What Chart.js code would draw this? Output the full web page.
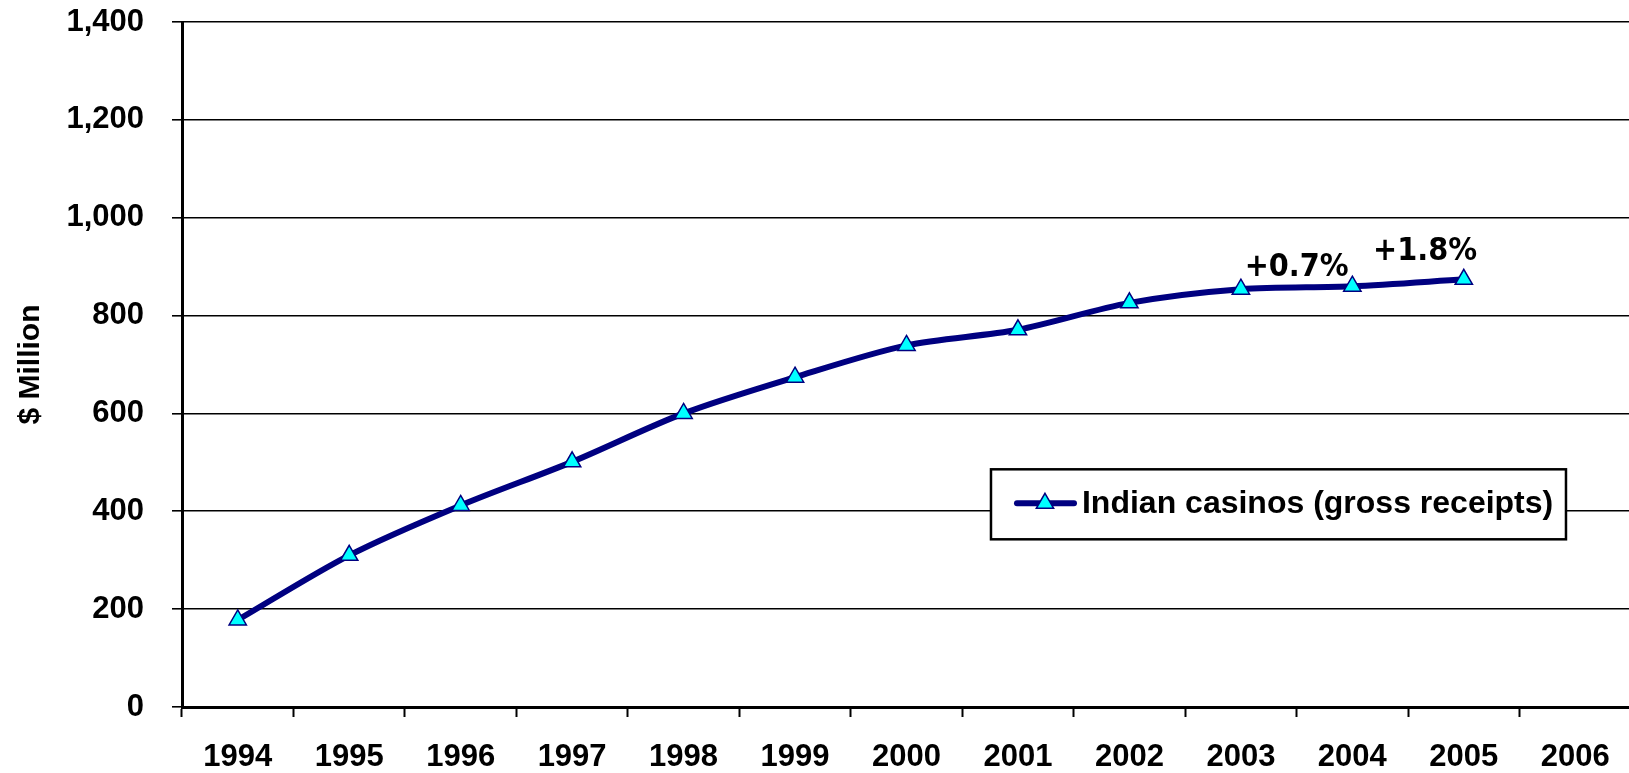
<!DOCTYPE html>
<html>
<head>
<meta charset="utf-8">
<script src="https://cdn.jsdelivr.net/npm/chart.js@4"></script>
<style>
    html, body { margin: 0; padding: 0; background: #fff; overflow: hidden; }
    canvas { display: block; }
</style>
</head>
<body>
<canvas id="casinoChart" width="1631" height="773"></canvas>
<script>
// data
const years = ["1994", "1995", "1996", "1997", "1998", "1999", "2000", "2001", "2002", "2003", "2004", "2005", "2006"];
const grossReceipts = [178, 310, 412, 501, 600, 674, 739, 771, 826, 854, 860, 874, null];
const seriesLabel = "Indian casinos (gross receipts)";
const yTicks = [0, 200, 400, 600, 800, 1000, 1200, 1400];
const growthNotes = ["+0.7%", "+1.8%"];
const growthFrom = ["2003", "2004"];
const growthTo = ["2004", "2005"];

const NAVY = "#000080";
const BOLD = "'Liberation Sans', Arial";

// percent labels drawn between two points of the line
const growthLabels = {
    id: "growthLabels",
    afterDatasetsDraw(chart) {
        const ctx = chart.ctx;
        const meta = chart.getDatasetMeta(0);
        const nudge = [{ dx: 0, dy: -12 }, { dx: 17, dy: -23 }];
        ctx.save();
        ctx.font = "bold 32px 'DejaVu Sans Condensed', 'DejaVu Sans'";
        ctx.fillStyle = "#000";
        ctx.textAlign = "center";
        ctx.textBaseline = "alphabetic";
        growthNotes.forEach(function (txt, i) {
            const a = meta.data[years.indexOf(growthFrom[i])];
            const b = meta.data[years.indexOf(growthTo[i])];
            const x = (a.x + b.x) / 2 + nudge[i].dx;
            const y = (a.y + b.y) / 2 + nudge[i].dy;
            ctx.fillText(txt, x, y);
        });
        ctx.restore();
    }
};

// boxed legend sitting inside the plot area
const boxLegend = {
    id: "boxLegend",
    afterDatasetsDraw(chart) {
        const ctx = chart.ctx;
        const area = chart.chartArea;
        const w = area.right - area.left;
        const h = area.bottom - area.top;
        const bx = area.left + w * 0.5583;
        const by = area.top + h * 0.653;
        const bw = 575;
        const bh = 70;
        ctx.save();
        ctx.fillStyle = "#fff";
        ctx.fillRect(bx, by, bw, bh);
        ctx.strokeStyle = "#000";
        ctx.lineWidth = 2.5;
        ctx.strokeRect(bx, by, bw, bh);
        const cy = by + bh / 2 - 1;
        ctx.strokeStyle = NAVY;
        ctx.lineWidth = 6;
        ctx.lineCap = "round";
        ctx.beginPath();
        ctx.moveTo(bx + 26, cy);
        ctx.lineTo(bx + 83, cy);
        ctx.stroke();
        // triangle marker
        const r = 10, mx = bx + 54;
        ctx.beginPath();
        ctx.moveTo(mx, cy - r);
        ctx.lineTo(mx + r * 0.866, cy + r * 0.5);
        ctx.lineTo(mx - r * 0.866, cy + r * 0.5);
        ctx.closePath();
        ctx.fillStyle = "#00FFFF";
        ctx.fill();
        ctx.lineWidth = 1.5;
        ctx.stroke();
        ctx.fillStyle = "#000";
        ctx.font = "bold 32px " + BOLD;
        ctx.textAlign = "left";
        ctx.textBaseline = "middle";
        ctx.fillText(chart.data.datasets[0].label, bx + 91, cy + 1);
        ctx.restore();
    }
};

document.addEventListener("DOMContentLoaded", function () {
    const ctx = document.getElementById("casinoChart").getContext("2d");
    new Chart(ctx, {
        type: "line",
        data: {
            labels: years,
            datasets: [{
                label: seriesLabel,
                data: grossReceipts,
                borderColor: NAVY,
                borderWidth: 6,
                tension: 0.3,
                pointStyle: "triangle",
                pointRadius: 10,
                pointBackgroundColor: "#00FFFF",
                pointBorderColor: NAVY,
                pointBorderWidth: 1.5,
                fill: false
            }]
        },
        options: {
            responsive: false,
            animation: false,
            layout: { autoPadding: false, padding: { top: 22, right: 0, bottom: 0, left: 0 } },
            plugins: {
                legend: { display: false },
                tooltip: { enabled: false }
            },
            scales: {
                x: {
                    offset: true,
                    grid: {
                        offset: true,
                        drawOnChartArea: false,
                        drawTicks: true,
                        tickLength: 10,
                        tickColor: "#000",
                        tickWidth: 2
                    },
                    border: { display: true, color: "#000", width: 3 },
                    ticks: {
                        color: "#000",
                        padding: 22,
                        maxRotation: 0,
                        autoSkip: false,
                        font: { family: BOLD, size: 31, weight: "bold" }
                    },
                    afterFit: function (scale) {
                        scale.height = 66;
                        scale.paddingLeft = 0;
                        scale.paddingRight = 0;
                    }
                },
                y: {
                    min: 0,
                    max: 1400,
                    afterBuildTicks: function (scale) {
                        scale.ticks = yTicks.map(function (v) { return { value: v }; });
                    },
                    grid: {
                        color: "#000",
                        lineWidth: 1.6,
                        drawTicks: true,
                        tickLength: 10,
                        tickColor: "#000",
                        tickWidth: 1.6
                    },
                    border: { display: true, color: "#000", width: 3 },
                    ticks: {
                        color: "#000",
                        padding: 28,
                        font: { family: BOLD, size: 31, weight: "bold" },
                        callback: function (v) { return v.toLocaleString("en-US"); }
                    },
                    title: {
                        display: true,
                        text: "$ Million",
                        color: "#000",
                        padding: { top: 13, bottom: 0 },
                        font: { family: BOLD, size: 30, weight: "bold" }
                    },
                    afterFit: function (scale) {
                        scale.width = 182;
                        scale.paddingTop = 0;
                        scale.paddingBottom = 0;
                    }
                }
            }
        },
        plugins: [growthLabels, boxLegend]
    });
});
</script>
</body>
</html>
